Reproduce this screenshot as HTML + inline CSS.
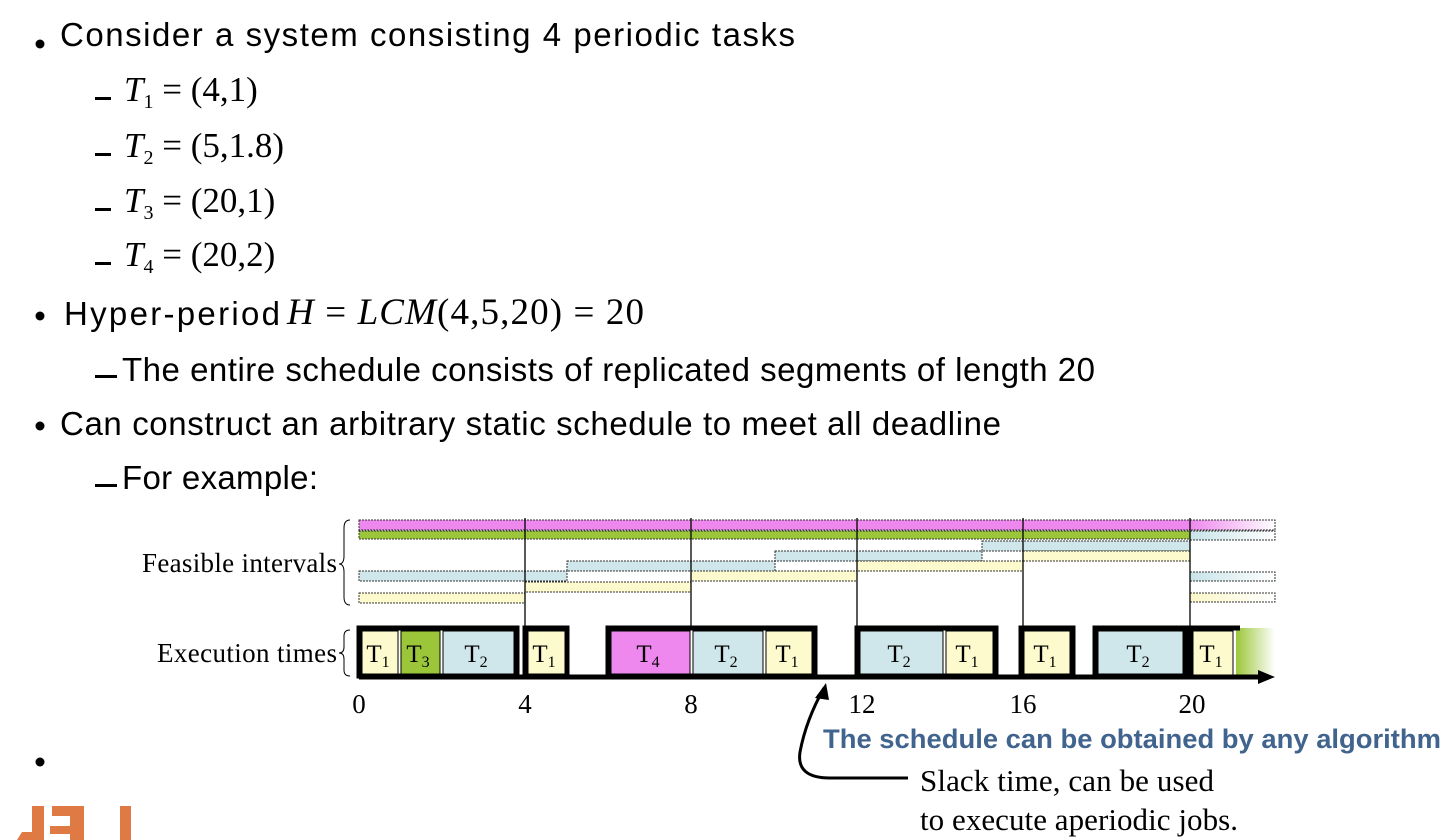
<!DOCTYPE html>
<html><head><meta charset="utf-8"><style>
html,body{margin:0;padding:0;background:#fff;width:1452px;height:840px;overflow:hidden}
svg{display:block}
.s{font-family:"Liberation Sans",sans-serif;font-size:33px;fill:#000}
.m{font-family:"Liberation Serif",serif;font-size:35px;fill:#000}
.i{font-style:italic}
.d{font-family:"Liberation Serif",serif;font-size:27px;fill:#000}
.t{font-family:"Liberation Serif",serif;font-size:25px;fill:#000}
.sub{font-size:20px}
.ts{font-size:16px}
</style></head><body>
<svg width="1452" height="840" viewBox="0 0 1452 840" xmlns="http://www.w3.org/2000/svg">
<defs>
<linearGradient id="gp" x1="0" x2="1"><stop offset="0" stop-color="#ee88ee"/><stop offset="1" stop-color="#fff"/></linearGradient>
<linearGradient id="gb" x1="0" x2="1"><stop offset="0" stop-color="#c8e4e8"/><stop offset="1" stop-color="#fff"/></linearGradient>
<linearGradient id="gy" x1="0" x2="1"><stop offset="0" stop-color="#fbf7c8"/><stop offset="1" stop-color="#fff"/></linearGradient>
<linearGradient id="gg" x1="0" x2="1"><stop offset="0" stop-color="#9cc63a"/><stop offset="1" stop-color="#fff"/></linearGradient>
</defs>
<circle cx="40" cy="44" r="4.5"/><text class="s" x="60" y="46" textLength="735">Consider a system consisting 4 periodic tasks</text>
<rect x="95" y="97" width="16" height="3"/><text class="m" x="124" y="101"><tspan class="i">T</tspan><tspan class="sub" dy="7">1</tspan><tspan dy="-7"> = (4,1)</tspan></text>
<rect x="95" y="153" width="16" height="3"/><text class="m" x="124" y="157"><tspan class="i">T</tspan><tspan class="sub" dy="7">2</tspan><tspan dy="-7"> = (5,1.8)</tspan></text>
<rect x="95" y="208" width="16" height="3"/><text class="m" x="124" y="212"><tspan class="i">T</tspan><tspan class="sub" dy="7">3</tspan><tspan dy="-7"> = (20,1)</tspan></text>
<rect x="95" y="262" width="16" height="3"/><text class="m" x="124" y="266"><tspan class="i">T</tspan><tspan class="sub" dy="7">4</tspan><tspan dy="-7"> = (20,2)</tspan></text>
<circle cx="40" cy="316" r="4.5"/><text class="s" x="64" y="325" textLength="216">Hyper-period</text><text class="m" x="287" y="324" style="font-size:37px" textLength="357"><tspan class="i">H</tspan> = <tspan class="i">LCM</tspan>(4,5,20) = 20</text>
<rect x="95" y="375" width="22" height="3"/><text class="s" x="122" y="381" textLength="973">The entire schedule consists of replicated segments of length 20</text>
<circle cx="40" cy="426" r="4.5"/><text class="s" x="60" y="435" textLength="941">Can construct an arbitrary static schedule to meet all deadline</text>
<rect x="95" y="484" width="22" height="3"/><text class="s" x="122" y="489" textLength="196">For example:</text>
<circle cx="40" cy="762" r="4.5"/>
<g stroke="#333" stroke-width="1" stroke-dasharray="2,1">
<rect x="359" y="520" width="831" height="10" fill="#ee88ee"/>
<rect x="359" y="531" width="831" height="8" fill="#9cc63a"/>
<rect x="982" y="541" width="208" height="10" fill="#cfe6ea"/>
<rect x="775" y="551" width="207" height="10" fill="#cfe6ea"/>
<rect x="1023" y="551" width="167" height="10" fill="#fdfacd"/>
<rect x="567" y="561" width="208" height="10" fill="#cfe6ea"/>
<rect x="857" y="561" width="166" height="10" fill="#fdfacd"/>
<rect x="359" y="571" width="208" height="10" fill="#cfe6ea"/>
<rect x="691" y="571" width="166" height="10" fill="#fdfacd"/>
<rect x="525" y="582" width="166" height="10" fill="#fdfacd"/>
<rect x="359" y="593" width="166" height="10" fill="#fdfacd"/>
<rect x="1190" y="520" width="85" height="10" fill="url(#gp)"/>
<rect x="1190" y="531" width="85" height="9" fill="url(#gb)"/>
<rect x="1190" y="572" width="85" height="9" fill="url(#gb)"/>
<rect x="1190" y="593" width="85" height="9" fill="url(#gy)"/>
</g>
<g stroke="#000" stroke-width="1.3">
<line x1="525" y1="518" x2="525" y2="630"/><line x1="691" y1="518" x2="691" y2="630"/><line x1="857" y1="518" x2="857" y2="630"/><line x1="1023" y1="518" x2="1023" y2="630"/><line x1="1190" y1="518" x2="1190" y2="630"/>
</g>
<path d="M350 520 q-6 0 -6 8 v28 q0 8 -5 8 q5 0 5 8 v25 q0 8 6 8" fill="none" stroke="#000" stroke-width="1"/>
<text class="t" x="142" y="572" style="font-size:27px" textLength="195">Feasible intervals</text>
<path d="M350 630 q-6 0 -6 6 v11 q0 6 -5 6 q5 0 5 6 v11 q0 6 6 6" fill="none" stroke="#000" stroke-width="1"/>
<text class="t" x="157" y="662" style="font-size:27px" textLength="180">Execution times</text>
<rect x="1236" y="628" width="39" height="48" fill="url(#gg)"/>
<g stroke="#000" stroke-width="1">
<rect x="362" y="631" width="36" height="44" fill="#fdfacd"/>
<rect x="401" y="631" width="39" height="44" fill="#9cc63a"/>
<rect x="443" y="631" width="71" height="44" fill="#cfe6ea"/>
<rect x="528" y="631" width="37" height="44" fill="#fdfacd"/>
<rect x="611" y="631" width="79" height="44" fill="#ee88ee"/>
<rect x="693" y="631" width="70" height="44" fill="#cfe6ea"/>
<rect x="766" y="631" width="46" height="44" fill="#fdfacd"/>
<rect x="860" y="631" width="83" height="44" fill="#cfe6ea"/>
<rect x="946" y="631" width="47" height="44" fill="#fdfacd"/>
<rect x="1024" y="631" width="46" height="44" fill="#fdfacd"/>
<rect x="1098" y="631" width="85" height="44" fill="#cfe6ea"/>
<rect x="1193" y="631" width="40" height="44" fill="#fdfacd"/>
</g>
<g fill="none" stroke="#000" stroke-width="5">
<rect x="359" y="628" width="158" height="48"/>
<rect x="525" y="628" width="42" height="48"/>
<rect x="608" y="628" width="207" height="48"/>
<rect x="857" y="628" width="139" height="48"/>
<rect x="1021" y="628" width="52" height="48"/>
<rect x="1095" y="628" width="91" height="48"/>
<path d="M1190 676 V628 H1240"/>
<line x1="359" y1="677" x2="1262" y2="677"/>
</g>
<path d="M1275 677 L1258 670 L1258 684 Z"/>
<g class="t" text-anchor="middle">
<text x="378" y="662">T<tspan class="ts" dy="5">1</tspan></text>
<text x="418" y="662">T<tspan class="ts" dy="5">3</tspan></text>
<text x="476" y="662">T<tspan class="ts" dy="5">2</tspan></text>
<text x="544" y="662">T<tspan class="ts" dy="5">1</tspan></text>
<text x="648" y="662">T<tspan class="ts" dy="5">4</tspan></text>
<text x="726" y="662">T<tspan class="ts" dy="5">2</tspan></text>
<text x="787" y="662">T<tspan class="ts" dy="5">1</tspan></text>
<text x="899" y="662">T<tspan class="ts" dy="5">2</tspan></text>
<text x="967" y="662">T<tspan class="ts" dy="5">1</tspan></text>
<text x="1045" y="662">T<tspan class="ts" dy="5">1</tspan></text>
<text x="1138" y="662">T<tspan class="ts" dy="5">2</tspan></text>
<text x="1211" y="662">T<tspan class="ts" dy="5">1</tspan></text>
</g>
<g class="d" text-anchor="middle">
<text x="359" y="713">0</text><text x="525" y="713">4</text><text x="691" y="713">8</text><text x="862" y="713">12</text><text x="1023" y="713">16</text><text x="1192" y="713">20</text>
</g>
<path d="M908 778 H830 Q796 778 800 752 Q806 720 824 688" fill="none" stroke="#000" stroke-width="3"/>
<path d="M826 683 L815 698 L829 700 Z"/>
<text x="823" y="748" font-family="Liberation Sans,sans-serif" font-weight="bold" font-size="27" fill="#41648f" textLength="618" lengthAdjust="spacingAndGlyphs">The schedule can be obtained by any algorithm</text>
<text class="d" x="920" y="791" style="font-size:31px" textLength="294">Slack time, can be used</text>
<text class="d" x="920" y="830" style="font-size:31px" textLength="318">to execute aperiodic jobs.</text>
<g fill="#e07a45">
<rect x="32" y="806" width="12" height="34"/><path d="M17 840 L22 832 H32 V840Z"/>
<rect x="52" y="806" width="32" height="10"/><rect x="70" y="806" width="14" height="34"/><rect x="50" y="826" width="22" height="8"/>
<rect x="120" y="806" width="11" height="34"/>
</g>
</svg>
</body></html>
